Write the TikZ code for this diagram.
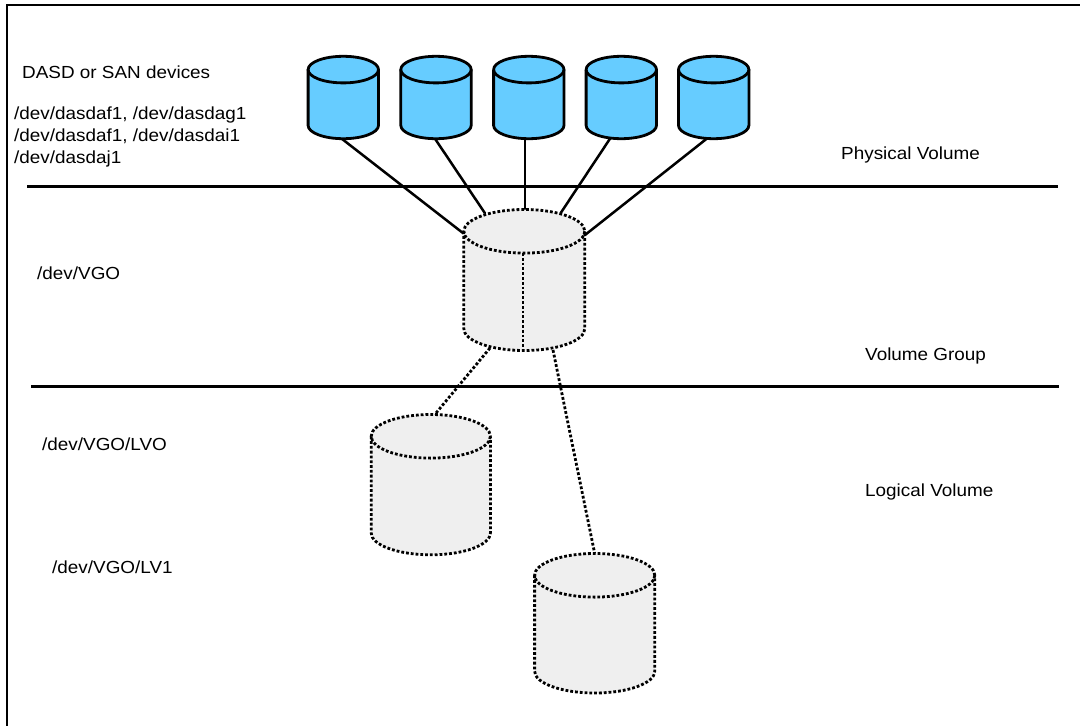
\documentclass[tikz,border=0pt]{standalone}
\usepackage{fontspec}
\setmainfont{Liberation Sans}[FakeStretch=1.08]
\usetikzlibrary{calc}
\definecolor{diskblue}{HTML}{66CCFF}
\definecolor{diskgray}{HTML}{EFEFEF}
% #1 name, #2 cx, #3 ytop, #4 rx, #5 ry, #6 ybot, #7 fill style, #8 draw style
\newcommand\mycyl[8]{%
  \pgfmathsetmacro\cyTop{#3+#5}%
  \pgfmathsetmacro\cyBot{#6-#5}%
  \pgfmathsetmacro\cyMid{(#3+#6)/2}%
  \pgfmathsetmacro\cyH{#6-#3}%
  \pgfmathsetmacro\cyW{2*#4}%
  \node[cylbox, minimum width=\cyW pt, minimum height=\cyH pt] (#1) at (#2,\cyMid) {};
  \fill[#7] ({#2-#4},\cyTop) -- ({#2-#4},\cyBot)
     .. controls ({#2-#4},{\cyBot+0.5523*#5}) and ({#2-0.5523*#4},{\cyBot+#5}) .. (#2,{\cyBot+#5})
     .. controls ({#2+0.5523*#4},{\cyBot+#5}) and ({#2+#4},{\cyBot+0.5523*#5}) .. ({#2+#4},\cyBot)
     -- ({#2+#4},\cyTop) -- cycle;
  \fill[#7] (#2,\cyTop) ellipse[x radius=#4, y radius=#5];
  \draw[#8] ({#2-#4},\cyTop) -- ({#2-#4},\cyBot)
     .. controls ({#2-#4},{\cyBot+0.5523*#5}) and ({#2-0.5523*#4},{\cyBot+#5}) .. (#2,{\cyBot+#5})
     .. controls ({#2+0.5523*#4},{\cyBot+#5}) and ({#2+#4},{\cyBot+0.5523*#5}) .. ({#2+#4},\cyBot)
     -- ({#2+#4},\cyTop);
  \draw[#8] (#2,\cyTop) ellipse[x radius=#4, y radius=#5];
}
\begin{document}
\begin{tikzpicture}[x=1pt,y=-1pt,
  lbl/.style={anchor=base west, inner sep=0pt, font=\fontsize{17.5}{22}\selectfont},
  sepline/.style={line width=3pt},
  frameline/.style={line width=1.8pt},
  link/.style={line width=2.5pt},
  dotlink/.style={line width=2.8pt, dash pattern=on 2.8pt off 2pt},
  cylbox/.style={inner sep=0pt, outer sep=0pt, draw=none, rectangle},
  bluefill/.style={fill=diskblue},
  grayfill/.style={fill=diskgray},
  solidcyl/.style={line width=2.8pt, line join=round},
  dotcyl/.style={line width=2.8pt, dash pattern=on 2.8pt off 2pt}]
\useasboundingbox (0,0) rectangle (1080,726);
% frame (cropped at right and bottom)
\draw[frameline] (7,726) -- (7,5) -- (1080,5);
% layer separators
\draw[sepline] (27,186.5) -- (1058,186.5);
\draw[sepline] (31,386.5) -- (1059,386.5);

% placeholder nodes (invisible) so connectors can use names
\node[cylbox, minimum width=70.4pt, minimum height=82.4pt] (d1) at (343.3,97.5) {};
\node[cylbox, minimum width=70.4pt, minimum height=82.4pt] (d2) at (436,97.5) {};
\node[cylbox, minimum width=70.4pt, minimum height=82.4pt] (d3) at (528.8,97.5) {};
\node[cylbox, minimum width=70.4pt, minimum height=82.4pt] (d4) at (621.3,97.5) {};
\node[cylbox, minimum width=70.4pt, minimum height=82.4pt] (d5) at (713.7,97.5) {};
\node[cylbox, minimum width=121pt, minimum height=141pt] (vg) at (524.3,280) {};
\node[cylbox, minimum width=119.2pt, minimum height=140.3pt] (lv0) at (430.8,484.65) {};
\node[cylbox, minimum width=120.2pt, minimum height=139.5pt] (lv1) at (594.7,623.25) {};

% connector end points
\coordinate (s1) at ($(d1.south)+(-1.6,0)$);
\coordinate (s2) at ($(d2.south)+(-1,0)$);
\coordinate (s3) at ($(d3.south)+(-3.8,0)$);
\coordinate (s4) at ($(d4.south)+(-11.3,0)$);
\coordinate (s5) at ($(d5.south)+(-7,0)$);
\coordinate (e1) at ($(vg.center)+(-61,-46.7)$);
\coordinate (e2) at ($(vg.center)+(-39.3,-66.7)$);
\coordinate (e3) at ($(vg.north)+(0.7,0)$);
\coordinate (e4) at ($(vg.center)+(36.4,-67)$);
\coordinate (e5) at ($(vg.center)+(60.7,-45)$);
\coordinate (b1) at ($(vg.center)+(-34.3,68)$);
\coordinate (b2) at ($(vg.center)+(28.7,70)$);
\coordinate (t0) at ($(lv0.north)+(4,0)$);

% connectors
\draw[link] (s1) -- (e1);
\draw[link] (s2) -- (e2);
\draw[link] (s3) -- (e3);
\draw[link] (s4) -- (e4);
\draw[link] (s5) -- (e5);
\draw[dotlink] (b1) -- (t0);
\draw[dotlink] (b2) -- (lv1.north);

% physical volumes
\mycyl{pd1}{343.3}{56.3}{35.2}{13.3}{138.7}{bluefill}{solidcyl}
\mycyl{pd2}{436}{56.3}{35.2}{13.3}{138.7}{bluefill}{solidcyl}
\mycyl{pd3}{528.8}{56.3}{35.2}{13.3}{138.7}{bluefill}{solidcyl}
\mycyl{pd4}{621.3}{56.3}{35.2}{13.3}{138.7}{bluefill}{solidcyl}
\mycyl{pd5}{713.7}{56.3}{35.2}{13.3}{138.7}{bluefill}{solidcyl}
% volume group
\mycyl{pvg}{524.3}{209.5}{60.5}{21.8}{350.5}{grayfill}{dotcyl}
\draw[dotcyl] (523,253) -- (523,350.5);
% logical volumes
\mycyl{plv0}{430.8}{414.5}{59.6}{21.8}{554.8}{grayfill}{dotcyl}
\mycyl{plv1}{594.7}{553.5}{60.1}{21.8}{693}{grayfill}{dotcyl}

% labels
\node[lbl] (tdasd) at (22,78.3) {DASD or SAN devices};
\node[lbl] (tdev1) at (14,119.3) {/dev/dasdaf1, /dev/dasdag1};
\node[lbl] (tdev2) at (14,141.5) {/dev/dasdaf1, /dev/dasdai1};
\node[lbl] (tdev3) at (14,163.3) {/dev/dasdaj1};
\node[lbl] (tpv) at (841,159) {Physical Volume};
\node[lbl] (tvg) at (865,360) {Volume Group};
\node[lbl] (tlv) at (865,496) {Logical Volume};
\node[lbl] (tvgo) at (37,279.3) {/dev/VGO};
\node[lbl] (tlv0) at (42,450) {/dev/VGO/LVO};
\node[lbl] (tlv1) at (52,573.3) {/dev/VGO/LV1};
\end{tikzpicture}
\end{document}
